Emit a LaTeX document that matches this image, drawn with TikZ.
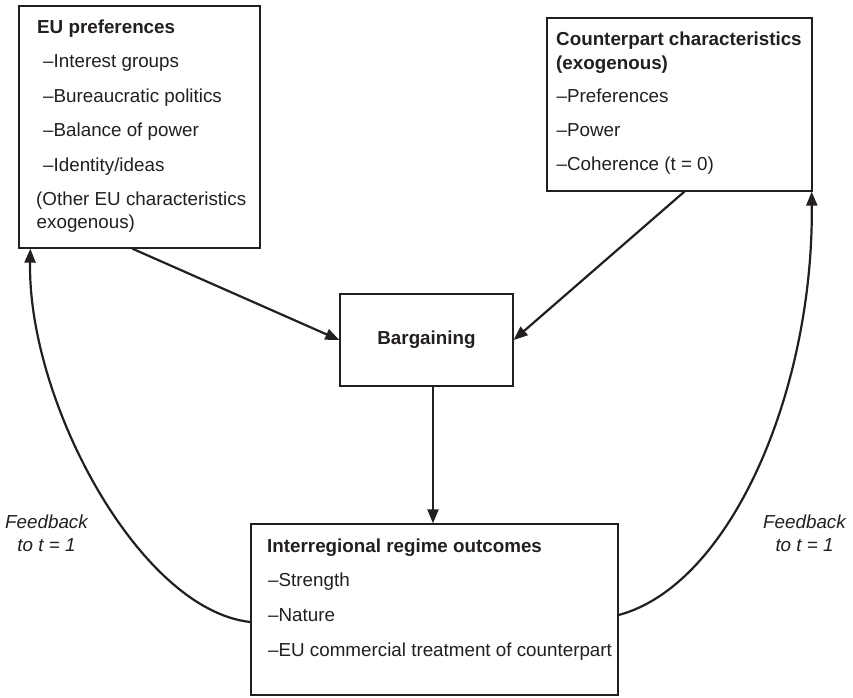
\documentclass[tikz,border=0pt]{standalone}
\usepackage{fontspec}
\setmainfont{Liberation Sans}
\usetikzlibrary{arrows.meta}
\definecolor{ink}{RGB}{35,31,32}
\tikzset{
  box/.style={draw=ink, line width=1.3pt, rectangle, inner sep=0pt},
  txt/.style={inner sep=0pt, text=ink, font=\fontsize{18.8}{23}\selectfont, anchor=base west},
  conn/.style={draw=ink, line width=2.2pt, -{Triangle[length=14pt,width=11pt]}},
}
\begin{document}
\begin{tikzpicture}[x=1pt,y=-1pt]
\useasboundingbox[fill=white] (0,0) rectangle (853,697);

% boxes
\node[box, minimum width=241pt, minimum height=242pt] (eu) at (139.5,127) {};
\node[box, minimum width=265pt, minimum height=173pt] (cp) at (679.5,104.5) {};
\node[box, minimum width=173pt, minimum height=92pt, font=\fontsize{18.8}{23}\selectfont\bfseries, text=ink] (barg) at (426.5,340) {Bargaining};
\node[box, minimum width=367pt, minimum height=171pt] (outc) at (434.5,609.5) {};

% EU preferences text
\node[txt] (eu0) at (37,33) {\bfseries EU preferences};
\node[txt] (eu1) at (43,67.5) {–Interest groups};
\node[txt] (eu2) at (43,102) {–Bureaucratic politics};
\node[txt] (eu3) at (43,136.5) {–Balance of power};
\node[txt] (eu4) at (43,171) {–Identity/ideas};
\node[txt] (eu5) at (36,205.5) {(Other EU characteristics};
\node[txt] (eu6) at (36.5,228.5) {exogenous)};

% Counterpart text
\node[txt] (cp0) at (556,45) {\bfseries Counterpart characteristics};
\node[txt] (cp1) at (556,69) {\bfseries (exogenous)};
\node[txt] (cp2) at (556.5,102) {–Preferences};
\node[txt] (cp3) at (556.5,136) {–Power};
\node[txt] (cp4) at (556.5,170) {–Coherence (t = 0)};

% Outcomes text
\node[txt] (oc0) at (267,552) {\bfseries Interregional regime outcomes};
\node[txt] (oc1) at (268,586) {–Strength};
\node[txt] (oc2) at (268,621) {–Nature};
\node[txt] (oc3) at (268,656) {–EU commercial treatment of counterpart};

% Feedback labels
\node[txt, anchor=base, font=\fontsize{18.8}{23}\selectfont\itshape] (fbl1) at (46.5,528) {Feedback};
\node[txt, anchor=base, font=\fontsize{18.8}{23}\selectfont\itshape] (fbl2) at (46.5,551) {to t = 1};
\node[txt, anchor=base, font=\fontsize{18.8}{23}\selectfont\itshape] (fbr1) at (804.5,528) {Feedback};
\node[txt, anchor=base, font=\fontsize{18.8}{23}\selectfont\itshape] (fbr2) at (804.5,551) {to t = 1};

% connectors
\draw[conn] ([xshift=114pt]eu.south west) -- (barg.west);
\draw[conn] ([xshift=138pt]cp.south west) -- (barg.east);
\draw[conn] ([xshift=6.5pt]barg.south) coordinate (bs) -- (bs |- outc.north);

% feedback curves
\draw[conn] ([yshift=-12.5pt]outc.west) .. controls +(-111,-12) and +(-3,152) .. ([xshift=12pt]eu.south west);
\draw[conn] ([yshift=-5.5pt]outc.east) .. controls +(112,-30) and +(2,199) .. ([xshift=-1pt]cp.south east);
\end{tikzpicture}
\end{document}
